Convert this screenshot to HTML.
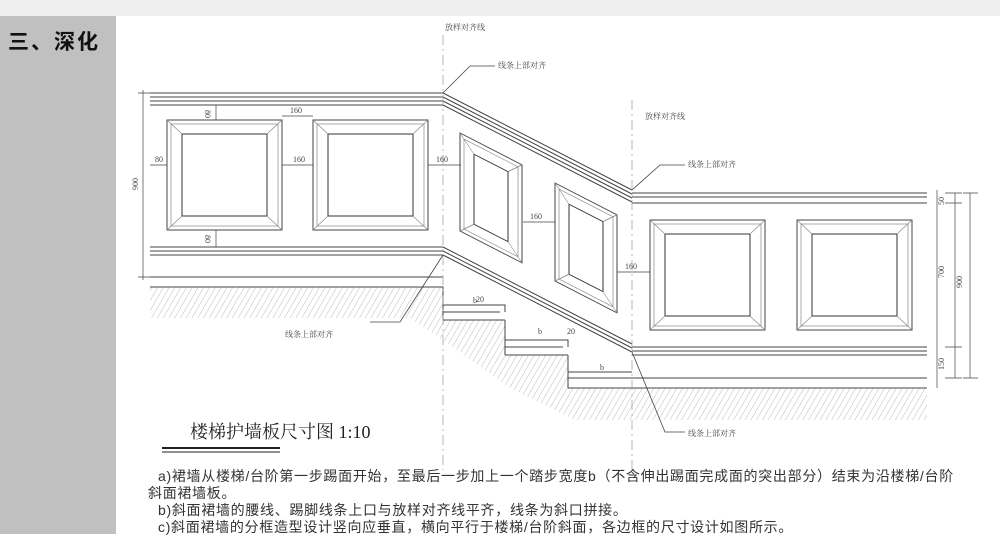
<!DOCTYPE html>
<html><head><meta charset="utf-8"><style>
html,body{margin:0;padding:0;width:1000px;height:534px;overflow:hidden;background:#fff;font-family:"Liberation Serif","Noto Serif CJK SC",serif}
#top{position:absolute;left:0;top:0;width:1000px;height:16px;background:#efefef}
#side{position:absolute;left:0;top:16px;width:116px;height:518px;background:#c0c0c0}
#ttl{position:absolute;left:8px;top:26px;font:bold 21px "Liberation Sans","Noto Sans CJK SC",sans-serif;color:#111;letter-spacing:2px}
svg{position:absolute;left:0;top:0}
.p{position:absolute;left:148px;font:14px "Liberation Sans","Noto Sans CJK SC",sans-serif;color:#333;white-space:nowrap;letter-spacing:0.7px}
</style></head><body>
<div id="top"></div><div id="side"></div>
<div id="ttl">三、深化</div>
<svg width="1000" height="534" viewBox="0 0 1000 534" font-family="Liberation Serif, Noto Serif CJK SC, serif">
<defs>
<pattern id="h" width="5" height="5" patternUnits="userSpaceOnUse" patternTransform="rotate(30)">
<line x1="0" y1="0" x2="0" y2="5" stroke="#aaa" stroke-width="0.8"/>
</pattern>
<g id="pn">
<rect x="0" y="0" width="115" height="110" fill="none" stroke="#444" stroke-width="1"/>
<rect x="4" y="4" width="107" height="102" fill="none" stroke="#888" stroke-width="0.7"/>
<rect x="15" y="14" width="85" height="82" fill="none" stroke="#333" stroke-width="1"/>
<path d="M0 0L15 14M115 0L100 14M0 110L15 96M115 110L100 96" stroke="#888" stroke-width="0.7"/>
</g>
<g id="sp">
<rect x="0" y="0" width="62" height="98" fill="none" stroke="#444" stroke-width="1"/>
<rect x="4" y="4" width="54" height="90" fill="none" stroke="#888" stroke-width="0.7"/>
<rect x="14" y="14" width="34" height="70" fill="none" stroke="#333" stroke-width="1"/>
<path d="M0 0L14 14M62 0L48 14M0 98L14 84M62 98L48 84" stroke="#888" stroke-width="0.7"/>
</g>
</defs>
<g stroke="#444" fill="none" stroke-width="1">
<path d="M150 287H443V320H505V355H568V388H927V420H575L510 388L450 345L410 318H150Z" fill="url(#h)" stroke="none"/>
<path d="M150 287H443V320M443 305H505V312M443 312H500M505 320V355M505 340H568V347M505 347H563M568 355V388M568 372H632M568 378H632M568 388H927"/>
<path d="M443 320H505M505 355H568"/>
<path d="M150 93H443M150 97H443M150 101H443M150 105H443"/>
<path d="M150 247H443M150 251H443M150 255H443M150 277H443"/>
<path d="M443 93L632 190M443 97L632 194M443 101L632 198M443 105L632 202"/>
<path d="M443 247L632 344M443 251L632 348M443 255L632 352"/>
<path d="M632 193H927M632 197H927M632 203H927"/>
<path d="M632 347H927M632 351H927M632 355H927M632 378H927"/>
<path d="M143 90V280M138 93H150M138 277H150" stroke-width="0.7"/>
<path d="M955 193V378M945 193H962M945 203H962M945 347H962M945 378H962M937 190V388" stroke-width="0.7"/>
<path d="M970 193V378M963 193H978M963 378H978" stroke-width="0.7"/>
<path d="M216 105V120M216 230V247M150 165H167M282 165H313M428 165H461M282 116H313M523 222H555M617 272H650" stroke-width="0.7"/>
<path d="M443 35V470M632 100V470" stroke="#999" stroke-dasharray="10 4 2 4" stroke-width="0.7"/>
<path d="M443 93L470 66H495M632 190L660 165H685M443 255L400 322H370M632 352L665 432H685" stroke-width="0.8"/>
</g>
<use href="#pn" x="167" y="120"/>
<use href="#pn" x="313" y="120"/>
<use href="#pn" x="650" y="220"/>
<use href="#pn" x="797" y="220"/>
<g transform="translate(460,133) skewY(27.2)"><use href="#sp"/></g>
<g transform="translate(555,183) skewY(27.2)"><use href="#sp"/></g>
<g font-size="8" fill="#444">
<text x="290" y="113">160</text><text x="293" y="162">160</text><text x="436" y="162">160</text>
<text x="530" y="219">160</text><text x="625" y="269">160</text><text x="155" y="162">80</text>
<text x="210" y="115" transform="rotate(90 210 110)">80</text>
<text x="210" y="240" transform="rotate(90 210 235)">80</text>
<text x="138" y="190" transform="rotate(-90 138 190)">900</text>
<text x="944" y="278" transform="rotate(-90 944 278)">700</text>
<text x="962" y="288" transform="rotate(-90 962 288)">900</text>
<text x="944" y="205" transform="rotate(-90 944 205)">50</text>
<text x="944" y="370" transform="rotate(-90 944 370)">150</text>
<text x="473" y="303">b</text><text x="538" y="334">b</text><text x="600" y="370">b</text>
<text x="476" y="302">20</text><text x="567" y="334">20</text><text x="445" y="30" >放样对齐线</text>
<text x="498" y="68">线条上部对齐</text><text x="645" y="119">放样对齐线</text>
<text x="688" y="167">线条上部对齐</text><text x="285" y="337">线条上部对齐</text>
<text x="688" y="436">线条上部对齐</text>
</g>
<text x="190" y="438" font-size="18" fill="#222">楼梯护墙板尺寸图 1:10</text>
<line x1="162" y1="448" x2="280" y2="448" stroke="#222" stroke-width="2"/>
<line x1="162" y1="452" x2="280" y2="452" stroke="#222" stroke-width="1"/>
</svg>
<div class="p" style="top:466px;left:158px">a)裙墙从楼梯/台阶第一步踢面开始，至最后一步加上一个踏步宽度b（不含伸出踢面完成面的突出部分）结束为沿楼梯/台阶</div>
<div class="p" style="top:483px">斜面裙墙板。</div>
<div class="p" style="top:500px;left:158px">b)斜面裙墙的腰线、踢脚线条上口与放样对齐线平齐，线条为斜口拼接。</div>
<div class="p" style="top:517px;left:158px">c)斜面裙墙的分框造型设计竖向应垂直，横向平行于楼梯/台阶斜面，各边框的尺寸设计如图所示。</div>
</body></html>
